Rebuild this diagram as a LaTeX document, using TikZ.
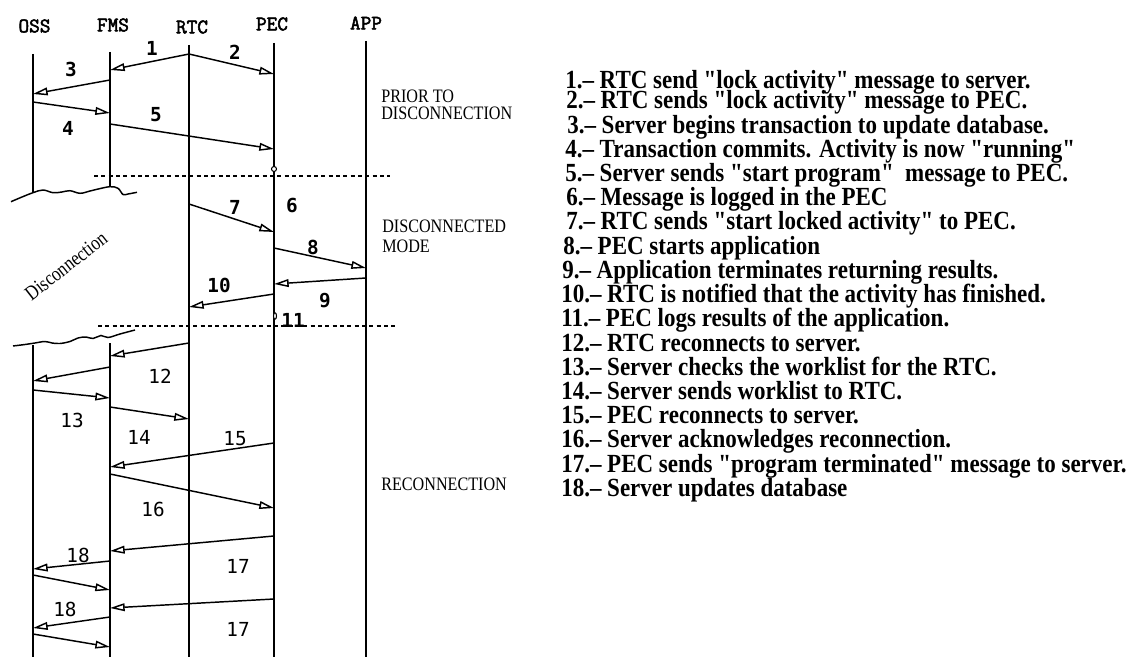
\documentclass[tikz,border=0pt]{standalone}
\usepackage{fontspec}
\setmainfont{Liberation Serif}
\newfontfamily\listfont[FakeStretch=0.88]{Liberation Serif}
\newfontfamily\phasefont[FakeStretch=0.85]{Liberation Serif}
\newfontfamily\slantfont[FakeStretch=0.82]{Liberation Serif}
\newfontfamily\headfont[FakeBold=2.5]{Latin Modern Mono}
\newfontfamily\numfont{DejaVu Sans Mono}
\usetikzlibrary{arrows.meta}

% message from lifeline #1 at height #2 to lifeline #3 at height #4
\newcommand\msgarrow[4]{\draw[msg] (#1 |- 0,#2) -- (#3 |- 0,#4);}

\begin{document}
\begin{tikzpicture}[x=0.75pt,y=-0.75pt,
  life/.style={line width=1.1pt},
  msg/.style={line width=1.1pt,-{Triangle[open,length=11pt,width=5.8pt]}},
  sep/.style={line width=1.1pt,dash pattern=on 3pt off 2.5pt},
  head/.style={font=\headfont\fontsize{15.5pt}{17pt}\selectfont,inner sep=0},
  numb/.style={font=\numfont\bfseries\fontsize{14.5pt}{16pt}\selectfont,inner sep=0},
  numr/.style={font=\numfont\fontsize{14.5pt}{16pt}\selectfont,inner sep=0},
  phase/.style={font=\phasefont\fontsize{14.25pt}{16pt}\selectfont,inner sep=0,anchor=west},
  item/.style={font=\listfont\bfseries\fontsize{19.6pt}{22pt}\selectfont,inner sep=0,anchor=base west},
]
\useasboundingbox (0,0) rectangle (1127,659);

% lifeline positions
\coordinate (lOSS) at (33,0);
\coordinate (lFMS) at (110,0);
\coordinate (lRTC) at (189,0);
\coordinate (lPEC) at (274,0);
\coordinate (lAPP) at (366,0);

% headers
\node[head] (oss) at (34.5,26) {OSS};
\node[head] (fms) at (113,25) {FMS};
\node[head] (rtc) at (192,27) {RTC};
\node[head] (pec) at (272,24) {PEC};
\node[head] (app) at (366,23) {APP};

% lifelines
\draw[life] (lOSS |- 0,54) -- (lOSS |- 0,192.7);
\draw[life] (lFMS |- 0,52) -- (lFMS |- 0,186.7);
\draw[life] (lOSS |- 0,345) -- (lOSS |- 0,657);
\draw[life] (lFMS |- 0,343) -- (lFMS |- 0,657);
\draw[life] (lRTC |- 0,45) -- (lRTC |- 0,657);
\draw[life] (lPEC |- 0,43) -- (lPEC |- 0,657);
\draw[life] (lAPP |- 0,41) -- (lAPP |- 0,657);

% broken ends of the server lifelines
\draw[life] plot[smooth,tension=0.6] coordinates {(11,201.7) (22,197) (33,192.7) (43,190) (53,192.7) (62,192) (70,190.7) (80,193.3) (90,191) (97,189.3) (110,186.7) (118,188.3) (123,194.5) (128,194) (137,192.3)};
\draw[life] plot[smooth,tension=0.6] coordinates {(13,346) (25,344.5) (35,343) (45,341.5) (52,343) (60,343.5) (70,341.5) (78,338) (86,337) (93,338.5) (101,335.5) (108,337.5) (120,334) (135,330)};
\node[font=\slantfont\fontsize{15.5pt}{17pt}\selectfont,rotate=38,inner sep=0] (disc) at (66,266) {Disconnection};

% phase separators
\draw[sep] (94,176) -- (390,176);
\draw[sep] (98,326) -- (396,326);

% log marks on the PEC lifeline
\draw[line width=0.8pt,fill=white] (274,169) circle[radius=2.5];
\draw[line width=0.8pt,fill=white] (275,316) ellipse[x radius=1.5,y radius=3.2];

% messages
\msgarrow{lRTC}{54}{lFMS}{70}
\msgarrow{lRTC}{54}{lPEC}{74}
\msgarrow{lFMS}{80}{lOSS}{94}
\msgarrow{lOSS}{102}{lFMS}{113}
\msgarrow{lFMS}{124}{lPEC}{149}
\msgarrow{lRTC}{204}{lPEC}{232}
\msgarrow{lPEC}{248}{lAPP}{268}
\msgarrow{lAPP}{278}{lPEC}{284}
\msgarrow{lPEC}{294}{lRTC}{307}
\msgarrow{lRTC}{343}{lFMS}{356}
\msgarrow{lFMS}{367}{lOSS}{381}
\msgarrow{lOSS}{390}{lFMS}{398}
\msgarrow{lFMS}{407}{lRTC}{419}
\msgarrow{lPEC}{443}{lFMS}{467}
\msgarrow{lFMS}{474}{lPEC}{508}
\msgarrow{lPEC}{536}{lFMS}{551}
\msgarrow{lFMS}{561}{lOSS}{569}
\msgarrow{lOSS}{575}{lFMS}{590}
\msgarrow{lPEC}{599}{lFMS}{608}
\msgarrow{lFMS}{617}{lOSS}{628}
\msgarrow{lOSS}{634}{lFMS}{647}

% step numbers
\node[numb] (n1) at (152,48) {1};
\node[numb] (n2) at (235,52) {2};
\node[numb] (n3) at (71,69) {3};
\node[numb] (n4) at (68,128) {4};
\node[numb] (n5) at (156,115) {5};
\node[numb] (n6) at (292,205) {6};
\node[numb] (n7) at (235,207) {7};
\node[numb] (n8) at (313,247) {8};
\node[numb] (n9) at (325,301) {9};
\node[numb] (n10) at (219,285) {10};
\node[numb] (n11) at (293,320) {11};
\node[numr] (n12) at (160,376) {12};
\node[numr] (n13) at (72,420) {13};
\node[numr] (n14) at (139,437) {14};
\node[numr] (n15) at (235,439) {15};
\node[numr] (n16) at (153,509) {16};
\node[numr] (n17a) at (238,566) {17};
\node[numr] (n18a) at (78,555) {18};
\node[numr] (n17b) at (238,629) {17};
\node[numr] (n18b) at (65,609) {18};

% phases
\node[phase] (ph1a) at (381,96) {PRIOR TO};
\node[phase] (ph1b) at (381,113) {DISCONNECTION};
\node[phase] (ph2a) at (382,226) {DISCONNECTED};
\node[phase] (ph2b) at (382,246) {MODE};
\node[phase] (ph3) at (381,484) {RECONNECTION};

% legend
\node[item] (l1) at (565,89) {1.– RTC send "lock activity" message to server.};
\node[item] (l2) at (566,109) {2.– RTC sends "lock activity" message to PEC.};
\node[item] (l3) at (567,133.2) {3.– Server begins transaction to update database.};
\node[item] (l4) at (565,157.4) {4.– Transaction commits. Activity is now "running"};
\node[item] (l5) at (565,181.6) {5.– Server sends "start program"\ \ message to PEC.};
\node[item] (l6) at (566,205.8) {6.– Message is logged in the PEC};
\node[item] (l7) at (566,230) {7.– RTC sends "start locked activity" to PEC.};
\node[item] (l8) at (563,254.2) {8.– PEC starts application};
\node[item] (l9) at (562,278.4) {9.– Application terminates returning results.};
\node[item] (l10) at (561,302.6) {10.– RTC is notified that the activity has finished.};
\node[item] (l11) at (561,326.8) {11.– PEC logs results of the application.};
\node[item] (l12) at (561,351) {12.– RTC reconnects to server.};
\node[item] (l13) at (561,375.2) {13.– Server checks the worklist for the RTC.};
\node[item] (l14) at (561,399.4) {14.– Server sends worklist to RTC.};
\node[item] (l15) at (561,423.6) {15.– PEC reconnects to server.};
\node[item] (l16) at (561,447.8) {16.– Server acknowledges reconnection.};
\node[item] (l17) at (561,472) {17.– PEC sends "program terminated" message to server.};
\node[item] (l18) at (561,496.2) {18.– Server updates database};
\end{tikzpicture}
\end{document}
